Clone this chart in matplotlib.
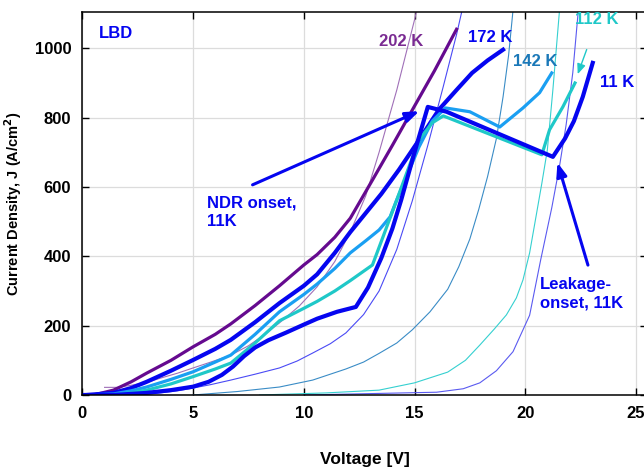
import matplotlib
matplotlib.use("Agg")
import matplotlib.pyplot as plt

# measured J-V curves (thick lines)
v_202 = [0.5, 1.4, 2.2, 2.9, 4.0, 5.0, 6.0, 6.7, 7.8, 8.9, 10.0, 10.6, 11.4, 12.1, 13.1, 14.0, 14.9, 15.9, 16.9]
j_202 = [0, 14, 38, 63, 100, 139, 175, 205, 258, 315, 375, 405, 455, 510, 620, 720, 822, 935, 1055]

v_172 = [0.2, 1.4, 2.2, 2.9, 4.0, 5.0, 6.0, 6.7, 7.8, 8.9, 10.0, 10.6, 11.4, 12.1, 12.8, 13.5, 14.3, 15.2,
         16.1, 16.9, 17.6, 18.3, 19.0]
j_172 = [0, 6, 20, 38, 70, 101, 133, 159, 210, 265, 315, 348, 410, 470, 525, 580, 650, 735,
         823, 880, 929, 965, 996]

v_142 = [0.2, 1.4, 2.2, 2.9, 4.0, 5.0, 6.0, 6.7, 7.8, 8.9, 10.0, 10.6, 11.4, 12.1, 12.8, 13.4, 13.9, 14.2,
         15.2, 15.8, 16.4, 17.5, 18.85, 19.9, 20.65, 21.2]
j_142 = [0, 3, 12, 23, 45, 67, 95, 115, 175, 240, 290, 320, 365, 410, 445, 476, 514, 563,
         715, 790, 828, 817, 773, 828, 872, 929]

v_112 = [0.2, 1.4, 2.2, 2.9, 4.0, 5.0, 6.0, 6.7, 7.8, 8.9, 10.0, 10.6, 11.4, 12.1, 13.1, 13.6, 14.2, 15.2,
         15.8, 16.3, 20.75, 21.1, 21.7, 22.25]
j_112 = [0, 0, 6, 14, 32, 53, 75, 92, 150, 214, 250, 270, 300, 330, 375, 460, 563, 736,
         785, 805, 693, 765, 831, 900]

v_11 = [0.0, 1.4, 2.9, 4.0, 5.0, 5.7, 6.3, 6.8, 7.3, 7.8, 8.4, 9.2, 10.0, 10.6, 11.5, 12.35, 12.9, 13.5,
        14.0, 14.4, 15.0, 15.6, 16.45, 21.25, 21.8, 22.2, 22.6, 23.05]
j_11 = [0, 0, 6, 14, 24, 38, 58, 82, 112, 137, 158, 180, 203, 220, 240, 254, 310, 395,
        480, 563, 700, 831, 817, 687, 740, 790, 860, 958]

# model curves (thin lines)
vm_202 = [1.0, 1.6, 2.2, 3.0, 3.6, 4.3, 5.0, 5.8, 6.7, 7.5, 8.2, 8.9, 9.8, 10.6, 11.4, 12.1, 12.8, 13.4,
          14.2, 15.0, 15.1]
jm_202 = [22, 22, 28, 38, 50, 63, 78, 95, 115, 142, 173, 208, 257, 312, 385, 470, 575, 700,
          880, 1082, 1110]

vm_172 = [2.5, 3.5, 4.3, 5.0, 5.8, 6.7, 7.8, 8.9, 9.7, 10.4, 11.2, 11.9, 12.7, 13.4, 14.2, 14.9, 15.6,
          16.3, 16.9, 17.15]
jm_172 = [0, 6, 12, 20, 30, 43, 60, 78, 98, 121, 148, 179, 232, 300, 420, 560, 720,
          890, 1040, 1110]

vm_142 = [5.0, 7.0, 8.9, 10.4, 11.9, 12.7, 13.4, 14.2, 14.9, 15.7, 16.5, 17.0, 17.5, 17.9, 18.3, 18.7,
          19.0, 19.25, 19.45]
jm_142 = [0, 10, 23, 43, 75, 95, 120, 150, 188, 240, 305, 370, 450, 535, 630, 740,
          860, 980, 1110]

vm_112 = [8.0, 11.0, 13.4, 15.0, 16.5, 17.3, 17.95, 18.6, 19.15, 19.6, 19.9, 20.2, 20.5, 20.75, 21.0,
          21.25, 21.55]
jm_112 = [0, 6, 14, 35, 66, 100, 144, 190, 231, 280, 332, 410, 519, 610, 707, 880, 1110]

vm_11 = [10.0, 16.0, 17.2, 17.95, 18.7, 19.45, 20.2, 20.7, 21.2, 21.55, 21.85, 22.15, 22.4]
jm_11 = [0, 8, 18, 35, 70, 125, 230, 390, 540, 660, 780, 930, 1110]

c_202 = "#650a8f"
c_blue = "#0505f0"
c_142 = "#1a9ff2"
c_112 = "#1fc8c8"

plt.rcParams["font.family"] = ["Liberation Sans", "DejaVu Sans"]

fig = plt.figure(figsize=(6.44, 4.70), dpi=100)
ax = fig.add_axes([0.128, 0.1596, 0.8766, 0.8143])

# thin model lines
ax.plot(vm_202, jm_202, color="#a070b8", lw=0.8)
ax.plot(vm_172, jm_172, color="#4a4af5", lw=0.8)
ax.plot(vm_142, jm_142, color="#3a8cc6", lw=0.8)
ax.plot(vm_112, jm_112, color="#35d0d0", lw=0.8)
ax.plot(vm_11, jm_11, color="#5a5af0", lw=0.8)

# measured lines
ax.plot(v_202, j_202, color=c_202, lw=2.3)
ax.plot(v_172, j_172, color=c_blue, lw=3.0)
ax.plot(v_142, j_142, color=c_142, lw=2.3)
ax.plot(v_112, j_112, color=c_112, lw=2.3)
ax.plot(v_11, j_11, color=c_blue, lw=3.0)

ax.set_xlim(0, 25.5)
ax.set_ylim(0, 1104)
ax.set_xticks([0, 5, 10, 15, 20, 25])
ax.set_yticks([0, 200, 400, 600, 800, 1000])
ax.grid(True, color="#dcdcdc", lw=0.9)
ax.set_axisbelow(True)
ax.tick_params(direction="in", length=5, width=1, top=True, right=True, pad=8, labelsize=12)
for lab in ax.get_xticklabels() + ax.get_yticklabels():
    lab.set_fontweight("bold")
for s in ax.spines.values():
    s.set_linewidth(1.1)

ax.set_xlabel("Voltage [V]", fontweight="bold", fontsize=12.5, labelpad=22)
ax.set_ylabel("Current Density, J (A/cm$^\\mathbf{2}$)", fontweight="bold", fontsize=10.5, labelpad=8)

tk = dict(fontweight="bold", fontsize=12, ha="center", va="center")
ax.text(1.51, 1042, "LBD", color=c_blue, **tk)
ax.text(14.38, 1019, "202 K", color="#7a2b92", **tk)
ax.text(18.44, 1030, "172 K", color=c_blue, **tk)
ax.text(20.43, 961, "142 K", color="#1a78b8", **tk)
ax.text(23.23, 1082, "112 K", color=c_112, **tk)
ax.text(24.13, 900, "11 K", color=c_blue, **tk)

ax.annotate("", xy=(15.33, 822), xytext=(7.57, 603),
            arrowprops=dict(arrowstyle="-|>,head_length=0.8,head_width=0.3", color=c_blue, lw=2.2))
ax.text(5.62, 575, "NDR onset,\n11K", color=c_blue, fontweight="bold", fontsize=12,
        ha="left", va="top", linespacing=1.3)
ax.annotate("", xy=(21.42, 678), xytext=(22.87, 367),
            arrowprops=dict(arrowstyle="-|>,head_length=0.8,head_width=0.3", color=c_blue, lw=2.2))
ax.text(20.65, 340, "Leakage-\nonset, 11K", color=c_blue, fontweight="bold", fontsize=12,
        ha="left", va="top", linespacing=1.3)
ax.annotate("", xy=(22.33, 918), xytext=(22.82, 1004),
            arrowprops=dict(arrowstyle="-|>,head_length=0.6,head_width=0.25", color=c_112, lw=1.0))

fig.savefig("out.png", dpi=100)
